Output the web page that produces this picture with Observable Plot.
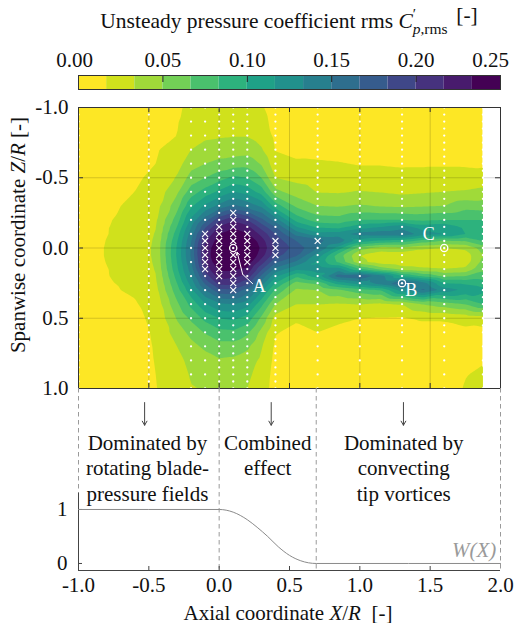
<!DOCTYPE html>
<html><head><meta charset="utf-8">
<script src="https://cdn.jsdelivr.net/npm/d3@7"></script>
<script src="https://cdn.jsdelivr.net/npm/@observablehq/plot@0.6"></script>
<style>
body{margin:0;background:#fff;}
#wrap{position:relative;width:514px;height:623px;overflow:hidden;font-family:"Liberation Serif","Times New Roman",Times,serif;color:#111;font-size:21px;}
#wrap svg, #wrap svg text{font-family:"Liberation Serif","Times New Roman",Times,serif !important;}
.abs{position:absolute;white-space:nowrap;line-height:1;}
</style></head><body><div id="wrap">
<div class="abs" id="title" style="left:0;top:8px;width:578px;text-align:center;font-size:21.5px;">Unsteady pressure coefficient rms <i>C</i><sup style="font-size:0.7em;position:relative;top:-0.1em;">&prime;</sup><sub style="font-size:0.72em;position:relative;left:-0.22em;top:0.05em;"><i>p</i>,rms</sub> <span style="position:relative;top:-0.3em;">[-]</span></div>
<div class="abs" id="ylab" style="left:18px;top:235px;transform:translate(-50%,-50%) rotate(-90deg);">Spanwise coordinate <i>Z</i>/<i>R</i> [-]</div>
<div class="abs" id="xlab" style="left:288px;top:613px;transform:translate(-50%,-50%);">Axial coordinate <i>X</i>/<i>R</i>&nbsp; [-]</div>
</div>
<script>
const zRows = [-1,-0.9,-0.8,-0.7,-0.6,-0.5,-0.4,-0.3,-0.2,-0.15,-0.1,-0.05,0,0.05,0.1,0.15,0.2,0.25,0.3,0.4,0.5,0.6,0.7,0.8,0.9,1];
const xCols = [-1,-0.8,-0.6,-0.45,-0.3,-0.2,-0.1,0,0.1,0.2,0.3,0.4,0.55,0.7,0.85,1,1.15,1.3,1.45,1.6,1.75,1.875];
const cpXm100 = [0.005,0.005,0.006,0.006,0.007,0.007,0.0075,0.008,0.008,0.009,0.009,0.009,0.009,0.009,0.009,0.009,0.008,0.008,0.008,0.0075,0.007,0.007,0.006,0.006,0.005,0.005];
const cpXm080 = [0.0067,0.0075,0.0083,0.0092,0.010,0.0117,0.0133,0.015,0.0158,0.0162,0.0163,0.017,0.0175,0.0175,0.017,0.0163,0.0162,0.0155,0.015,0.0133,0.0117,0.0108,0.010,0.0092,0.0083,0.0075];
const cpXm060 = [0.0083,0.0092,0.010,0.0117,0.0133,0.015,0.0167,0.0183,0.020,0.0208,0.0217,0.022,0.0222,0.0222,0.0217,0.0212,0.0205,0.0195,0.0183,0.0155,0.0142,0.0133,0.0125,0.0117,0.0108,0.010];
const cpXm045 = [0.0117,0.0133,0.0147,0.0158,0.0167,0.0192,0.0225,0.0267,0.0308,0.0328,0.0345,0.0358,0.0367,0.0367,0.0358,0.0345,0.0328,0.0308,0.0283,0.0225,0.0192,0.018,0.0175,0.0172,0.0167,0.0163];
const cpXm030 = [0.015,0.0158,0.0167,0.0208,0.0267,0.035,0.0467,0.060,0.075,0.0833,0.0917,0.0983,0.1017,0.1025,0.100,0.0967,0.090,0.0833,0.0767,0.0633,0.0517,0.0417,0.0333,0.0283,0.025,0.0225];
const cpXm020 = [0.0192,0.0225,0.0267,0.0333,0.0433,0.0567,0.075,0.0967,0.120,0.1317,0.1417,0.1483,0.1517,0.1517,0.1483,0.1417,0.1333,0.1233,0.1117,0.0883,0.070,0.055,0.045,0.0383,0.035,0.0325];
const cpXm010 = [0.0225,0.0267,0.0308,0.0383,0.050,0.0667,0.090,0.120,0.1583,0.180,0.200,0.2133,0.220,0.2217,0.2167,0.2067,0.190,0.170,0.150,0.115,0.0883,0.0683,0.0533,0.0433,0.0375,0.0342];
const cpX000 = [0.025,0.0292,0.0317,0.0408,0.055,0.0767,0.1033,0.1383,0.195,0.2183,0.2333,0.2433,0.250,0.2517,0.2483,0.2367,0.225,0.2067,0.1783,0.130,0.100,0.0783,0.060,0.0483,0.040,0.0358];
const cpX010 = [0.0267,0.030,0.0325,0.0417,0.0583,0.0867,0.1167,0.1533,0.2133,0.2317,0.2433,0.2517,0.2567,0.2567,0.2483,0.2367,0.2217,0.2067,0.180,0.1333,0.1033,0.080,0.060,0.0467,0.0392,0.035];
const cpX020 = [0.0242,0.0283,0.0325,0.0433,0.060,0.0833,0.110,0.1433,0.200,0.2217,0.235,0.250,0.2567,0.2533,0.2433,0.230,0.2117,0.190,0.1583,0.1233,0.0933,0.070,0.0533,0.0417,0.0367,0.0333];
const cpX030 = [0.0183,0.0217,0.0267,0.035,0.0483,0.0667,0.0933,0.130,0.1717,0.1933,0.2117,0.225,0.230,0.225,0.2083,0.1867,0.1633,0.1417,0.1217,0.0883,0.0633,0.045,0.035,0.030,0.0267,0.025];
const cpX040 = [0.010,0.0117,0.0133,0.0158,0.0233,0.0333,0.055,0.0917,0.1417,0.1667,0.1833,0.1933,0.1967,0.190,0.170,0.145,0.120,0.100,0.080,0.050,0.0267,0.0175,0.0142,0.0125,0.0108,0.010];
const cpX055 = [0.0067,0.0075,0.0083,0.0117,0.0192,0.0283,0.0417,0.0633,0.0933,0.1167,0.1433,0.1667,0.1767,0.170,0.1467,0.120,0.0867,0.060,0.0467,0.0333,0.0183,0.0133,0.010,0.0083,0.0075,0.0067];
const cpX070 = [0.0058,0.0067,0.0083,0.0125,0.0183,0.025,0.0325,0.050,0.075,0.0967,0.1217,0.1583,0.150,0.1267,0.1133,0.1267,0.1083,0.070,0.050,0.0333,0.0233,0.0167,0.0117,0.0092,0.0075,0.0067];
const cpX085 = [0.005,0.0058,0.0075,0.0117,0.0175,0.0233,0.0317,0.0483,0.0733,0.0933,0.125,0.1467,0.1083,0.075,0.080,0.125,0.160,0.1083,0.0633,0.0317,0.0192,0.0133,0.010,0.0083,0.0067,0.0058];
const cpX100 = [0.005,0.0058,0.0075,0.0108,0.0158,0.0217,0.0342,0.0517,0.0833,0.1083,0.1417,0.1083,0.0583,0.0333,0.0383,0.0833,0.1667,0.125,0.075,0.0333,0.0167,0.010,0.0075,0.0067,0.0058,0.005];
const cpX115 = [0.005,0.0058,0.0075,0.0108,0.0158,0.0225,0.0325,0.0483,0.0833,0.1167,0.145,0.0967,0.0433,0.0233,0.025,0.0583,0.1417,0.1433,0.0833,0.030,0.0158,0.010,0.0075,0.0067,0.0058,0.005];
const cpX130 = [0.005,0.0058,0.0075,0.0108,0.015,0.0208,0.030,0.0467,0.0833,0.1267,0.1467,0.0917,0.0467,0.0233,0.0217,0.0417,0.100,0.170,0.125,0.0333,0.015,0.010,0.0075,0.0067,0.0058,0.005];
const cpX145 = [0.005,0.0058,0.0075,0.0108,0.015,0.0217,0.0317,0.0483,0.080,0.1083,0.125,0.075,0.0367,0.0217,0.0217,0.0367,0.080,0.1417,0.1533,0.050,0.0183,0.0108,0.0083,0.0075,0.0067,0.0058];
const cpX160 = [0.005,0.0058,0.0075,0.0108,0.015,0.0225,0.0333,0.050,0.0833,0.1133,0.1167,0.0633,0.0333,0.0217,0.0217,0.0333,0.0633,0.100,0.125,0.0583,0.0183,0.0117,0.0092,0.0083,0.0075,0.0067];
const cpX175 = [0.005,0.0058,0.0075,0.0108,0.015,0.0217,0.035,0.060,0.0833,0.0967,0.100,0.0667,0.0367,0.025,0.025,0.0367,0.0667,0.0967,0.1133,0.0667,0.0217,0.0133,0.010,0.0117,0.0158,0.0183];
const cpX1875 = [0.005,0.0058,0.0075,0.010,0.0142,0.0233,0.0383,0.0583,0.0833,0.0883,0.0917,0.0833,0.0583,0.050,0.055,0.0633,0.075,0.0917,0.105,0.0833,0.025,0.0117,0.010,0.015,0.020,0.0217];
const cpColumns = [cpXm100,cpXm080,cpXm060,cpXm045,cpXm030,cpXm020,cpXm010,cpX000,cpX010,cpX020,cpX030,cpX040,cpX055,cpX070,cpX085,cpX100,cpX115,cpX130,cpX145,cpX160,cpX175,cpX1875];

const measColumns = [
  {x:-1.0, segs:[[-1,1,0.05]]}, {x:-0.5, segs:[[-1,1,0.05]]},
  {x:-0.2, segs:[[-1,1,0.1]]}, {x:-0.1, segs:[[-1,1,0.1]]},
  {x:0.0, segs:[[-1,1,0.05]]}, {x:0.1, segs:[[-1,1,0.05]]}, {x:0.2, segs:[[-1,1,0.05]]}, {x:0.4, segs:[[-1,1,0.05]]},
  {x:0.7, segs:[[-1,0.6,0.05],[0.7,1,0.1]]}, {x:1.0, segs:[[-1,0.6,0.05],[0.7,1,0.1]]},
  {x:1.3, segs:[[-1,0.6,0.05],[0.7,1,0.1]]}, {x:1.6, segs:[[-1,0.6,0.05],[0.7,1,0.1]]},
  {x:1.875, segs:[[-1,0.6,0.05],[0.7,1,0.1]]}
];
const crossColumns = [
  {x:-0.1, z:[-0.1,-0.05,0,0.05,0.1,0.15]},
  {x:0.0, z:[-0.15,-0.1,-0.05,0,0.05,0.1,0.15,0.2]},
  {x:0.1, z:[-0.25,-0.2,-0.15,-0.1,-0.05,0.05,0.1,0.15,0.2,0.25,0.3]},
  {x:0.2, z:[-0.1,-0.05,0,0.05,0.1]},
  {x:0.4, z:[-0.05,0,0.05]},
  {x:0.7, z:[-0.05]}
];
const probes = [{name:"A", x:0.1, z:0}, {name:"B", x:1.3, z:0.25}, {name:"C", x:1.6, z:0}];
const probeLabels = [{t:"A", x:0.285, z:0.275}, {t:"B", x:1.365, z:0.30}, {t:"C", x:1.49, z:-0.10}];
const leaderA = [{x:0.167, z:0.187}, {x:0.238, z:0.254}];
const leaderArrow = [{x1:0.167, z1:0.187, x2:0.128, z2:0.03}];

const zTicks = [-1,-0.5,0,0.5,1];
const xGrid = [-0.5,0,0.5,1,1.5];
const zGrid = [-0.5,0,0.5];
const xTicks = [-1,-0.5,0,0.5,1,1.5,2];
const cbTicks = [0,0.05,0.10,0.15,0.20,0.25];
const wTicks = [0,1];

const wCurve = [{x:-1,w:1},{x:0,w:1},{x:0.1,w:0.95},{x:0.2,w:0.81},{x:0.27,w:0.67},{x:0.345,w:0.5},{x:0.42,w:0.31},{x:0.5,w:0.15},{x:0.58,w:0.05},{x:0.69,w:0},{x:2,w:0}];
const regionEdges = [-1, 0, 0.69, 2];
const arrowsX = [-0.53, 0.37, 1.31];
const annotLines = [
  {x:-0.51, row:0, text:"Dominated by"}, {x:-0.51, row:1, text:"rotating blade-"}, {x:-0.51, row:2, text:"pressure fields"},
  {x:0.345, row:0, text:"Combined"}, {x:0.345, row:1, text:"effect"},
  {x:1.312, row:0, text:"Dominated by"}, {x:1.312, row:1, text:"convecting"}, {x:1.312, row:2, text:"tip vortices"}
];

const serif = '"Liberation Serif","Times New Roman",Times,serif';
const nBands = 15, cpMax = 0.25;
const levels = d3.range(1, nBands).map(k => k * cpMax / nBands);
const colors = d3.quantize(d3.interpolateViridis, nBands).reverse();
const colorScale = {type:"threshold", domain: levels, range: colors};
const fmt1 = d => d.toFixed(1);
const fmt2 = d => d.toFixed(2);

const field = [];
xCols.forEach((x, i) => zRows.forEach((z, j) => field.push({x, z, v: cpColumns[i][j]})));

const near = (a, b) => Math.abs(a - b) < 0.01;
const crosses = crossColumns.flatMap(c => c.z.map(z => ({x:c.x, z})));
const dots = measColumns.flatMap(c => c.segs.flatMap(([a, b, s]) =>
  d3.range(Math.round((b - a) / s) + 1).map(k => ({x:c.x, z:+(a + k * s).toFixed(3)}))))
  .filter(d => !crosses.some(c => near(c.x, d.x) && near(c.z, d.z)) && !probes.some(p => near(p.x, d.x) && near(p.z, d.z)));

const bounds = {x1: d3.min(xCols), x2: d3.max(xCols), y1: d3.min(zRows), y2: d3.max(zRows)};
const wrap = document.getElementById("wrap");
function place(node, top) { node.style.position = "absolute"; node.style.left = "0px"; node.style.top = top + "px"; wrap.appendChild(node); }
const baseStyle = {background:"transparent", fontFamily: serif, fontSize:"21px", color:"#111", overflow:"visible"};

const bands = [0, ...levels].map((lo, k) => ({lo, hi: k < levels.length ? levels[k] : cpMax}));
const cbar = Plot.plot({
  width:514, height:92, marginLeft:78, marginRight:14, marginTop:75, marginBottom:3,
  x:{domain:[0, cpMax], axis:null}, y:{domain:[0,1], axis:null}, color: colorScale, style: baseStyle,
  marks:[
    Plot.rect(bands, {x1:"lo", x2:"hi", y1:0, y2:1, fill:"lo"}),
    Plot.tickX(cbTicks.slice(1, -1), {x:d=>d, insetBottom:7, stroke:"#222"}),
    Plot.axisX(cbTicks.slice(1, -1), {anchor:"top", tickSize:0, tickPadding:9, tickFormat:fmt2, label:null}),
    Plot.axisX(cbTicks.slice(0, 1), {anchor:"top", tickSize:0, tickPadding:9, tickFormat:fmt2, label:null, dx:-4}),
    Plot.axisX(cbTicks.slice(-1), {anchor:"top", tickSize:0, tickPadding:9, tickFormat:fmt2, label:null, dx:-10}),
    Plot.frame({stroke:"#333"})
  ]
});
place(cbar, 0);

const main = Plot.plot({
  width:514, height:300, marginLeft:78, marginRight:14, marginTop:12, marginBottom:7,
  x:{domain:[-1,2], axis:null}, y:{domain:[-1,1], reverse:true}, color: colorScale, style: baseStyle,
  marks:[
    Plot.rect([bounds], {x1:"x1", x2:"x2", y1:"y1", y2:"y2", fill: colors[0]}),
    Plot.contour(field, {x:"x", y:"z", fill:"v", interpolate:"barycentric", thresholds: levels,
      x1: bounds.x1, x2: bounds.x2, y1: bounds.y1, y2: bounds.y2}),
    Plot.gridX(xGrid, {stroke:"#000", strokeOpacity:0.16}),
    Plot.gridY(zGrid, {stroke:"#000", strokeOpacity:0.16}),
    Plot.dot(dots, {x:"x", y:"z", r:1.15, fill:"white", stroke:null}),
    Plot.dot(crosses, {x:"x", y:"z", symbol:"times", r:2.8, stroke:"white", strokeWidth:1.1}),
    Plot.line(leaderA, {x:"x", y:"z", stroke:"white", strokeWidth:1}),
    Plot.arrow(leaderArrow, {x1:"x1", y1:"z1", x2:"x2", y2:"z2", stroke:"white", strokeWidth:1, headLength:5}),
    Plot.dot(probes, {x:"x", y:"z", r:3.6, stroke:"white", strokeWidth:1.3, fill:"none"}),
    Plot.dot(probes, {x:"x", y:"z", r:1.2, fill:"white", stroke:null}),
    Plot.text(probeLabels, {x:"x", y:"z", text:"t", fill:"white", fontSize:18}),
    Plot.tickY(zTicks, {y:d=>d, insetRight:417, stroke:"#333"}),
    Plot.tickY(zTicks, {y:d=>d, insetLeft:417, stroke:"#333"}),
    Plot.tickX(xGrid, {x:d=>d, insetTop:276, stroke:"#333"}),
    Plot.tickX(xGrid, {x:d=>d, insetBottom:276, stroke:"#333"}),
    Plot.axisY(zTicks, {anchor:"left", tickSize:0, tickPadding:10, tickFormat:fmt1, label:null}),
    Plot.frame({stroke:"#333"})
  ]
});
place(main, 95);

const wDomain = [-0.13, 3.24];
const wPanelTop = 1.3;
const rowW = [2.22, 1.76, 1.29];
const arrowW = [2.98, 2.56];
const wLabel = [{x:1.97, w:0.24, text:"W(X)"}];
const lower = Plot.plot({
  width:514, height:235, marginLeft:78, marginRight:14, marginTop:0, marginBottom:53,
  x:{domain:[-1,2]}, y:{domain:wDomain}, style: baseStyle,
  marks:[
    Plot.ruleX(regionEdges, {stroke:"#9a9a9a", strokeDasharray:"4.5,3.5", strokeWidth:1}),
    Plot.ruleX([-1], {y1:wDomain[0], y2:wPanelTop, stroke:"#444"}),
    Plot.ruleY([wDomain[0]], {stroke:"#444"}),
    Plot.tickY(wTicks, {y:d=>d, insetRight:418, stroke:"#444"}),
    Plot.tickX(xTicks.slice(1, -1), {x:d=>d, insetTop:178, stroke:"#444"}),
    Plot.axisY(wTicks, {anchor:"left", tickSize:0, tickPadding:11, tickFormat:d=>String(d), label:null}),
    Plot.axisX(xTicks, {anchor:"bottom", tickSize:0, tickPadding:7, tickFormat:fmt1, label:null}),
    Plot.line(wCurve, {x:"x", y:"w", stroke:"#8a8a8a", strokeWidth:1, curve:"monotone-x"}),
    Plot.text(wLabel, {x:"x", y:"w", text:"text", textAnchor:"end", fill:"#9a9a9a", fontStyle:"italic"}),
    Plot.arrow(arrowsX, {x1:d=>d, x2:d=>d, y1:arrowW[0], y2:arrowW[1], stroke:"#444", strokeWidth:1, headLength:7}),
    Plot.text(annotLines, {x:"x", y:d=>rowW[d.row], text:"text"})
  ]
});
place(lower, 388);
["title","ylab","xlab"].forEach(id => wrap.appendChild(document.getElementById(id)));
</script></body></html>
